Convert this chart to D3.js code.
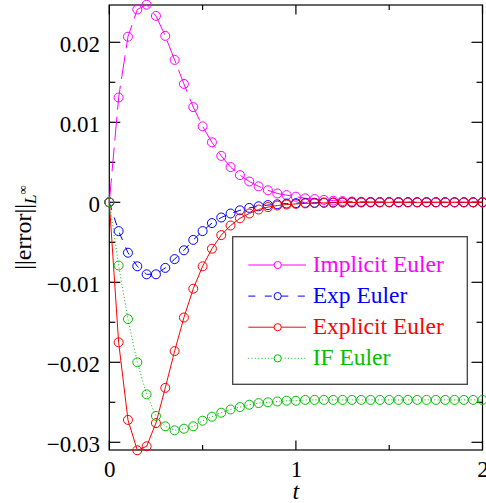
<!DOCTYPE html>
<html>
<head>
<meta charset="utf-8">
<script src="https://cdn.jsdelivr.net/npm/d3@7"></script>
<style>
html, body { margin: 0; padding: 0; background: #fff; }
svg { display: block; }
</style>
</head>
<body>
<script>
const tValues = [0, 0.05, 0.1, 0.15, 0.2, 0.25, 0.3, 0.35, 0.4, 0.45, 0.5, 0.55, 0.6, 0.65, 0.7, 0.75, 0.8, 0.85, 0.9, 0.95,
  1.0, 1.05, 1.1, 1.15, 1.2, 1.25, 1.3, 1.35, 1.4, 1.45, 1.5, 1.55, 1.6, 1.65, 1.7, 1.75, 1.8, 1.85, 1.9, 1.95, 2.0];

const implicitEuler = [0, 0.0131, 0.0207, 0.0241, 0.0247, 0.0233, 0.0208, 0.0178, 0.0148, 0.0119, 0.0095, 0.0075, 0.0058,
  0.0044, 0.0034, 0.0026, 0.0020, 0.0015, 0.0011, 0.0009, 0.0007, 0.0005, 0.0004, 0.0003, 0.0002, 0.00015, 0.0001,
  0.00007, 0.00005, 0.00004, 0.00003, 0.00002, 0.00002, 0.00001, 0.00001, 0.00001, 0, 0, 0, 0, 0];

const expEuler = [0, -0.0036, -0.0063, -0.0080, -0.0090, -0.0090, -0.0082, -0.0071, -0.0060, -0.0047, -0.0036, -0.0026,
  -0.0019, -0.0014, -0.0010, -0.0007, -0.0005, -0.00035, -0.00025, -0.00015, -0.0001, -0.00007, -0.00005, -0.00003,
  -0.00002, -0.00001, 0, 0, 0, 0, 0, 0, 0, 0, 0, 0, 0, 0, 0, 0, 0];

const explicitEuler = [0, -0.0175, -0.0272, -0.0310, -0.0305, -0.0276, -0.0232, -0.0186, -0.0144, -0.0108, -0.0080,
  -0.0058, -0.0041, -0.0029, -0.0020, -0.0014, -0.0009, -0.0006, -0.0004, -0.00028, -0.0002, -0.00014, -0.0001,
  -0.00007, -0.00005, -0.00003, -0.00002, -0.00001, 0, 0, 0, 0, 0, 0, 0, 0, 0, 0, 0, 0, 0];

const ifEuler = [0, -0.0079, -0.0146, -0.0200, -0.0240, -0.0267, -0.0280, -0.0285, -0.0283, -0.0280, -0.0273, -0.0268,
  -0.0263, -0.0259, -0.0256, -0.0253, -0.0251, -0.0250, -0.0249, -0.0248, -0.0248, -0.0247, -0.0247, -0.0247, -0.0247,
  -0.0247, -0.0247, -0.0247, -0.0247, -0.0247, -0.0247, -0.0247, -0.0247, -0.0247, -0.0247, -0.0247, -0.0247, -0.0247,
  -0.0247, -0.0247, -0.0247];

const seriesNames = ["Implicit Euler", "Exp Euler", "Explicit Euler", "IF Euler"];
const seriesColors = ["#ff00ff", "#0000ff", "#ff0000", "#00c000"];

const xMajorTicks = [0, 1, 2];
const xMinorTicks = [0.5, 1.5];
const yMajorTicks = [-0.03, -0.02, -0.01, 0, 0.01, 0.02];
const yMinorTicks = [-0.025, -0.015, -0.005, 0.005, 0.015];

(function () {
const W = 486, H = 503;
const pL = 109.3, pR = 482.5, pT = 5, pB = 450;
const FONT = '"Liberation Serif"';

const svg = d3.select("body").append("svg").attr("width", W).attr("height", H);

const x = d3.scaleLinear().domain([0, 2]).range([pL, pR]);
const y = d3.scaleLinear().domain([-0.030963, 0.024663]).range([pB, pT]);

const series = [implicitEuler, expEuler, explicitEuler, ifEuler];
const dashes = ["24,7", "8,8", null, "1,2.3"];

// frame
svg.append("rect").attr("x", pL).attr("y", pT).attr("width", pR - pL).attr("height", pB - pT)
  .attr("fill", "none").attr("stroke", "#000").attr("stroke-width", 1.2);

// ticks
const tg = svg.append("g").attr("stroke", "#000").attr("stroke-width", 1.2);
function yTicks(vals, len) {
  vals.forEach(v => {
    tg.append("line").attr("x1", pL).attr("x2", pL + len).attr("y1", y(v)).attr("y2", y(v));
    tg.append("line").attr("x1", pR).attr("x2", pR - len).attr("y1", y(v)).attr("y2", y(v));
  });
}
function xTicks(vals, len) {
  vals.forEach(v => {
    tg.append("line").attr("x1", x(v)).attr("x2", x(v)).attr("y1", pB).attr("y2", pB - len);
    tg.append("line").attr("x1", x(v)).attr("x2", x(v)).attr("y1", pT).attr("y2", pT + len);
  });
}
yTicks(yMajorTicks, 11);
yTicks(yMinorTicks, 6);
xTicks(xMajorTicks, 9.5);
xTicks(xMinorTicks, 5);

// tick labels via axes
const yAxis = d3.axisLeft(y).tickValues(yMajorTicks).tickSize(0).tickPadding(9.3)
  .tickFormat(d => Math.abs(d) < 1e-12 ? "0" : d3.format(".2f")(d));
const gy = svg.append("g").attr("transform", `translate(${pL},0)`).call(yAxis);
gy.select(".domain").remove();
gy.attr("font-family", null).attr("font-size", null);
gy.selectAll("text").attr("dy", "0.41em").attr("fill", "#000")
  .style("font-family", FONT).style("font-size", "23px");

const xAxis = d3.axisBottom(x).tickValues(xMajorTicks).tickSize(0).tickPadding(11).tickFormat(d3.format("d"));
const gx = svg.append("g").attr("transform", `translate(0,${pB})`).call(xAxis);
gx.select(".domain").remove();
gx.attr("font-family", null).attr("font-size", null);
gx.selectAll("text").attr("fill", "#000").style("font-family", FONT).style("font-size", "23px");

// axis titles
svg.append("text").attr("x", x(1)).attr("y", 499).attr("text-anchor", "middle")
  .style("font-family", FONT).style("font-size", "24px").style("font-style", "italic").text("t");

const yl = svg.append("text").attr("transform", `translate(31,${(pT + pB) / 2}) rotate(-90)`)
  .attr("text-anchor", "middle").style("font-family", FONT).style("font-size", "24px");
yl.append("tspan").text("||error||");
yl.append("tspan").style("font-style", "italic").style("font-size", "17px").attr("dy", 5).text("L");
yl.append("tspan").style("font-size", "13px").attr("dy", -9).text("∞");

// series
const line = d3.line().x((d, i) => x(tValues[i])).y(d => y(d));
series.forEach((vals, k) => {
  const g = svg.append("g");
  g.append("path").attr("d", line(vals)).attr("fill", "none").attr("stroke", seriesColors[k])
    .attr("stroke-width", 1).attr("stroke-dasharray", dashes[k]);
  g.selectAll("circle").data(vals).join("circle")
    .attr("cx", (d, i) => x(tValues[i])).attr("cy", d => y(d)).attr("r", 4.5)
    .attr("fill", "none").attr("stroke", seriesColors[k]).attr("stroke-width", 1);
});

// legend
const lg = svg.append("g");
lg.append("rect").attr("x", 232.7).attr("y", 236.7).attr("width", 234.6).attr("height", 147.6)
  .attr("fill", "#fff").attr("stroke", "#404040").attr("stroke-width", 1.3);
const legendDash = [null, "7,9.5", null, "1,2.3"];
seriesNames.forEach((name, k) => {
  const ry = 265 + k * 31.1;
  lg.append("line").attr("x1", 248.3).attr("x2", 306).attr("y1", ry).attr("y2", ry)
    .attr("stroke", seriesColors[k]).attr("stroke-width", 1).attr("stroke-dasharray", legendDash[k]);
  lg.append("circle").attr("cx", 277.7).attr("cy", ry).attr("r", 3.6)
    .attr("fill", "#fff").attr("stroke", seriesColors[k]).attr("stroke-width", 1);
  lg.append("text").attr("x", 312.7).attr("y", ry + 6.5).attr("fill", seriesColors[k])
    .style("font-family", FONT).style("font-size", "23.5px").text(name);
});
})();
</script>
</body>
</html>
